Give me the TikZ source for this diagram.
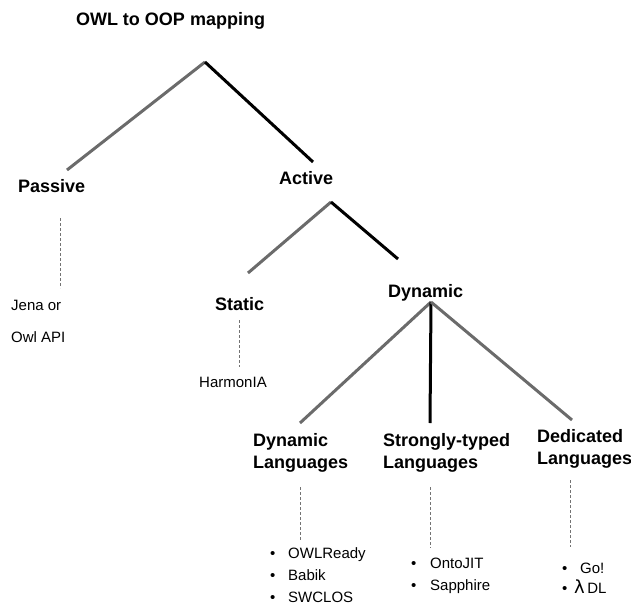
\documentclass[tikz,border=0pt]{standalone}
\usepackage{fontspec}
\setmainfont{Liberation Sans}
\newfontfamily\dejavu{DejaVu Sans}
\begin{document}
\begin{tikzpicture}[x=1pt,y=-1pt,
  lbl/.style={inner sep=0pt,font=\fontsize{18}{22}\selectfont\bfseries,align=left},
  txt/.style={inner sep=0pt,font=\fontsize{15}{18}\selectfont,anchor=base west},
  grayline/.style={draw=black!58,line width=3pt},
  blackline/.style={draw=black,line width=3pt},
  dashline/.style={draw=black!55,line width=0.8pt,dash pattern=on 3pt off 2pt}]
\useasboundingbox (0,0) rectangle (631,602);
% labels
\node[lbl,anchor=base] (title) at (170.5,26) {OWL to OOP mapping};
\node[lbl,anchor=base west] (passive) at (18,192) {Passive};
\node[lbl,anchor=base west] (active) at (279,184) {Active};
\node[lbl,anchor=base west] (static) at (215,310) {Static};
\node[lbl,anchor=base west] (dynamic) at (388,297) {Dynamic};
\node[lbl,anchor=base west] (dynlang) at (253,468) {Dynamic\\Languages};
\node[lbl,anchor=base west] (stronglang) at (383,468) {Strongly-typed\\Languages};
\node[lbl,anchor=base west] (dedlang) at (537,464) {Dedicated\\Languages};
% leaf texts
\node[txt] (jena) at (11,310) {Jena or};
\node[txt] (owlapi) at (11,342) {Owl API};
\node[txt,anchor=base] (harmonia) at (233,387) {HarmonIA};
\node[txt] (b1) at (270,558) {•};
\node[txt] (owlready) at (288,558) {OWLReady};
\node[txt] (b2) at (270,580) {•};
\node[txt] (babik) at (288,580) {Babik};
\node[txt] (b3) at (270,602) {•};
\node[txt] (swclos) at (288,602) {SWCLOS};
\node[txt] (b4) at (411,568) {•};
\node[txt] (ontojit) at (430,568) {OntoJIT};
\node[txt] (b5) at (411,590) {•};
\node[txt] (sapphire) at (430,590) {Sapphire};
\node[txt] (b6) at (562,573) {•};
\node[txt] (gol) at (580,573) {Go!};
\node[txt] (b7) at (562,593) {•};
\node[txt] (lambda) at (574,593) {{\dejavu\fontsize{18}{20}\selectfont λ}\,DL};
% tree coordinates
\coordinate (rootA) at (205,62);
\coordinate (passiveT) at (67,170);
\coordinate (activeT) at (313,162);
\coordinate (activeA) at (331,202);
\coordinate (staticT) at (248,273);
\coordinate (dynamicT) at (398,259);
\coordinate (dynamicA) at (431,302);
\coordinate (dynlangT) at (300,423);
\coordinate (stronglangT) at (430,423);
\coordinate (dedlangT) at (572,420);
\draw[grayline] (passiveT) -- (rootA);
\draw[blackline] (rootA) -- (activeT);
\draw[grayline] (staticT) -- (activeA);
\draw[blackline] (activeA) -- (dynamicT);
\draw[grayline] (dynlangT) -- (dynamicA);
\draw[blackline] (dynamicA) -- (stronglangT);
\draw[grayline] (dynamicA) -- (dedlangT);
% dashed links
\coordinate (pd1) at (60,218); \coordinate (pd2) at (60,288);
\coordinate (sd1) at (239,320); \coordinate (sd2) at (239,367);
\coordinate (dd1) at (300,487); \coordinate (dd2) at (300,540);
\coordinate (td1) at (430,487); \coordinate (td2) at (430,548);
\coordinate (ed1) at (570,480); \coordinate (ed2) at (570,547);
\draw[dashline] (pd1) -- (pd2);
\draw[dashline] (sd1) -- (sd2);
\draw[dashline] (dd1) -- (dd2);
\draw[dashline] (td1) -- (td2);
\draw[dashline] (ed1) -- (ed2);
\end{tikzpicture}
\end{document}
